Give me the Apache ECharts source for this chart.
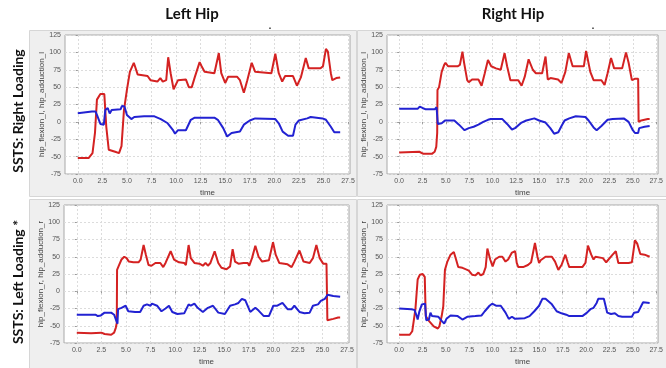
<!DOCTYPE html>
<html><head><meta charset="utf-8">
<script src="https://cdn.jsdelivr.net/npm/echarts@6/dist/echarts.min.js"></script>
<style>html,body{margin:0;padding:0;background:#fff}#c{width:666px;height:368px}</style>
</head><body><div id="c"></div>
<script>
// ---- Data (time [s], angle [deg]) ----
const xTicks = [0, 2.5, 5, 7.5, 10, 12.5, 15, 17.5, 20, 22.5, 25, 27.5];
const columnTitles = ['Left Hip', 'Right Hip'];
const rowTitles = ['SSTS: Right Loading', 'SSTS: Left Loading *'];
const yNames = ['hip_flexion_l, hip_adduction_l', 'hip_flexion_l, hip_adduction_l', 'hip_flexion_r, hip_adduction_r', 'hip_flexion_r, hip_adduction_r'];

const tlFlexion = [[0,-52],[1.1,-52],[1.5,-45],[1.75,-16],[1.95,32],[2.15,33],[2.3,40],[2.7,40],[2.9,-7],[3.15,-40],[3.8,-43],[4.2,-45],[4.45,-35],[4.7,17],[5.0,46],[5.3,72],[5.7,85],[5.9,87],[6.1,68],[7.1,66],[7.4,60],[8.1,58],[8.4,63],[8.65,58],[9.0,60],[9.2,93],[9.45,70],[9.75,47],[9.95,46],[10.2,60],[11.0,61],[11.3,50],[11.6,50],[11.9,64],[12.4,86],[12.6,80],[12.9,72],[13.9,70],[14.35,99],[14.45,101],[14.6,70],[15.0,56],[15.3,65],[16.2,65],[16.5,60],[16.9,42],[17.25,60],[17.7,85],[18.05,72],[19.7,70],[20.1,98],[20.45,70],[20.8,58],[21.1,66],[21.9,66],[22.3,52],[22.7,64],[23.2,92],[23.5,77],[24.7,77],[24.95,80],[25.25,105],[25.45,101],[25.75,70],[25.9,60],[26.3,63],[26.7,64]];
const tlAdduction = [[0,12.5],[1.44,15],[1.8,15],[1.95,10],[2.3,-3],[2.65,-4],[2.8,17],[3.05,20],[3.25,12],[3.45,17],[4.35,18],[4.5,23],[4.75,22],[5.0,10],[5.45,4],[5.75,7],[6.75,8],[6.9,9],[7.8,8],[8.45,4],[9.15,-2],[9.65,-11],[9.9,-17],[10.2,-12],[11.0,-12],[11.5,3],[11.9,6],[13.9,6],[14.25,3],[14.8,-9],[15.2,-21],[15.65,-16],[16.5,-14],[16.9,-4],[17.5,2],[18.05,5],[20.1,4],[20.45,-2],[20.85,-14],[21.4,-20],[21.9,-20],[22.15,-4],[22.5,2],[23.35,5],[23.7,7],[24.9,5],[25.25,3],[25.75,-7],[26.1,-15],[26.7,-15]];

const trFlexion = [[0,-44],[2.15,-43],[2.6,-46],[3.5,-46],[3.8,-43],[3.97,-36],[4.07,-16],[4.1,46],[4.27,50],[4.55,72],[4.82,82],[4.96,85],[5.23,80],[6.25,80],[6.5,82],[6.77,101],[6.95,85],[7.28,60],[7.45,57],[7.8,61],[8.48,61],[8.82,52],[9.16,70],[9.5,89],[9.85,80],[10.36,77],[10.87,75],[11.28,99],[11.55,80],[11.9,60],[12.75,60],[13.1,52],[13.44,65],[13.85,90],[14.3,75],[14.63,70],[15.3,70],[15.66,94],[15.9,61],[16.2,63],[17.0,61],[17.37,56],[17.78,72],[18.15,99],[18.56,80],[19.76,80],[20.0,102],[20.45,72],[20.8,60],[21.64,60],[21.98,53],[22.3,70],[22.67,92],[23.0,77],[23.86,77],[24.27,100],[24.55,85],[24.9,60],[25.2,62],[25.57,62],[25.62,0],[25.9,2],[26.6,4],[26.8,4]];
const trAdduction = [[0,19],[2.0,19],[2.2,22],[2.5,20],[2.85,18],[3.8,18],[4.0,21],[4.1,21],[4.14,-3],[4.55,-2],[4.9,2],[5.9,2],[6.4,-4],[6.77,-9],[7.0,-12],[7.45,-9],[7.97,-7],[8.48,-4],[9.0,0],[9.5,3],[9.8,4],[11.04,4],[11.55,-3],[12.07,-11],[12.4,-9],[13.1,-1],[13.6,2],[14.46,5],[14.97,2],[15.66,-1],[16.17,-9],[16.58,-17],[17.03,-15],[17.37,-6],[17.7,2],[18.2,5],[18.9,8],[19.93,7],[20.27,2],[20.8,-8],[21.13,-12],[21.64,-6],[22.3,3],[22.84,4],[24.03,5],[24.55,0],[25.0,-12],[25.23,-16],[25.57,-16],[25.68,-9],[26.26,-7],[26.8,-6]];

const blFlexion = [[0,-60],[1.45,-61],[2.5,-60],[2.83,-62],[3.5,-63],[3.8,-60],[3.97,-53],[4.07,-46],[4.1,31],[4.28,37],[4.55,46],[4.83,50],[5.07,48],[5.3,43],[5.76,42],[6.28,42],[6.5,46],[6.8,67],[7.03,53],[7.3,38],[7.6,37],[8.0,41],[8.5,41],[8.8,35],[9.03,41],[9.55,58],[9.9,46],[10.4,42],[10.93,41],[11.1,38],[11.38,67],[11.6,48],[11.97,41],[12.48,40],[12.83,37],[13.1,41],[13.34,37],[13.6,41],[14.03,58],[14.4,41],[14.72,34],[15.24,32],[15.6,36],[15.86,61],[16.1,43],[16.45,40],[16.97,41],[17.4,41],[17.55,37],[17.83,48],[18.17,66],[18.5,50],[18.86,43],[19.55,45],[19.97,71],[20.24,53],[20.6,41],[21.45,39],[21.86,35],[22.14,43],[22.66,59],[23.07,43],[23.7,41],[24.03,48],[24.38,67],[24.72,48],[25.07,40],[25.41,40],[25.5,-42],[26.1,-40],[26.6,-38],[26.8,-38]];
const blAdduction = [[0,-34],[1.9,-34],[2.14,-36],[2.45,-35],[2.83,-31],[3.5,-31],[3.8,-34],[4.03,-43],[4.14,-47],[4.2,-26],[4.55,-24],[4.97,-21],[5.24,-29],[5.93,-30],[6.45,-30],[6.8,-21],[7.14,-19],[7.5,-21],[7.65,-18],[8.17,-21],[8.62,-29],[9.03,-25],[9.38,-21],[9.72,-30],[10.24,-33],[10.93,-32],[11.38,-19],[11.6,-21],[11.97,-18],[12.3,-24],[12.83,-30],[13.34,-24],[13.86,-21],[14.4,-31],[15.07,-33],[15.6,-21],[16.1,-19],[16.45,-17],[16.8,-11],[17.14,-13],[17.65,-30],[18.17,-24],[18.5,-28],[19.03,-36],[19.55,-36],[20.0,-21],[20.4,-21],[20.93,-17],[21.45,-26],[21.86,-26],[22.14,-21],[22.66,-30],[23.17,-32],[23.7,-31],[24.03,-21],[24.55,-19],[24.83,-14],[25.24,-11],[25.52,-5],[26.1,-7],[26.8,-8]];

const brFlexion = [[0,-63],[1.13,-63],[1.4,-58],[1.74,-26],[1.98,17],[2.22,24],[2.5,25],[2.74,21],[2.84,-36],[3.18,-43],[3.7,-51],[4.14,-54],[4.3,-51],[4.55,-36],[4.72,-22],[4.9,31],[5.16,43],[5.5,53],[5.85,57],[6.09,46],[6.32,35],[6.77,34],[7.1,32],[7.45,30],[7.8,24],[8.14,23],[8.48,27],[8.72,23],[9.0,25],[9.26,35],[9.44,62],[9.74,46],[10.0,36],[10.26,46],[10.7,50],[11.04,50],[11.38,43],[11.66,46],[12.07,56],[12.41,58],[12.58,41],[12.75,35],[13.26,35],[13.78,38],[14.12,42],[14.53,70],[14.8,50],[14.97,41],[15.14,45],[15.66,50],[16.34,50],[16.68,43],[17.03,31],[17.37,38],[17.78,53],[18.05,41],[18.2,35],[19.6,35],[19.93,41],[20.2,66],[20.55,53],[20.8,46],[21.0,50],[21.8,48],[22.15,42],[22.4,46],[22.84,53],[23.18,58],[23.45,41],[24.55,41],[24.9,42],[25.23,74],[25.47,69],[25.8,54],[26.26,53],[26.8,50]];
const brAdduction = [[0,-25],[1.3,-26],[1.64,-27],[1.88,-36],[1.98,-41],[2.15,-30],[2.43,-19],[2.77,-18],[2.9,-42],[3.18,-41],[3.35,-31],[3.52,-36],[4.2,-37],[4.55,-43],[4.82,-47],[5.06,-40],[5.5,-35],[6.26,-36],[6.77,-41],[7.28,-37],[8.14,-36],[8.82,-35],[9.16,-29],[9.67,-21],[9.95,-18],[10.36,-21],[10.87,-21],[11.38,-31],[11.73,-40],[12.07,-37],[12.4,-40],[13.44,-39],[13.95,-36],[14.46,-29],[14.97,-21],[15.32,-11],[15.66,-11],[16.34,-19],[16.85,-29],[17.37,-32],[17.88,-34],[18.2,-36],[19.6,-36],[20.1,-31],[20.46,-26],[20.8,-24],[21.13,-17],[21.3,-11],[21.9,-11],[22.26,-31],[22.67,-33],[23.08,-32],[23.45,-36],[23.86,-37],[24.9,-37],[25.13,-31],[25.57,-30],[25.8,-24],[26.1,-16],[26.8,-17]];

const flexionSeries = [tlFlexion, trFlexion, blFlexion, brFlexion];
const adductionSeries = [tlAdduction, trAdduction, blAdduction, brAdduction];

// ---- Layout ----
const grids = [
  {left: 65, top: 35, width: 285, height: 139},
  {left: 387, top: 35, width: 285, height: 139},
  {left: 64, top: 205, width: 285, height: 138},
  {left: 387, top: 205, width: 285, height: 138}
];
const RED = '#d42222', BLUE = '#2222d2';
const FONT = '"Liberation Sans", Arial, sans-serif';

const chart = echarts.init(document.getElementById('c'), null, {renderer: 'canvas'});
const xAxes = [], yAxes = [], series = [];
grids.forEach((g, i) => {
  xAxes.push({
    type: 'value', gridIndex: i, min: -1.3, max: 27.7,
    name: 'time', nameLocation: 'middle', nameGap: 15,
    nameTextStyle: {fontSize: 8, color: '#444', fontFamily: FONT},
    axisLine: {show: false},
    axisTick: {show: true, customValues: xTicks, length: 2, lineStyle: {color: '#999'}},
    axisLabel: {customValues: xTicks, fontSize: 7, color: '#555', margin: 4, fontFamily: FONT,
      formatter: v => v.toFixed(1)},
    splitLine: {show: true, lineStyle: {color: '#dcdcdc', type: [2, 2], width: 1}}
  });
  yAxes.push({
    type: 'value', gridIndex: i, min: -75, max: 125, interval: 25,
    name: yNames[i], nameLocation: 'middle', nameGap: 17,
    nameTextStyle: {fontSize: 8, color: '#444', fontFamily: FONT},
    axisLine: {show: false},
    axisTick: {show: true, length: 2, lineStyle: {color: '#999'}},
    axisLabel: {fontSize: 7, color: '#555', margin: 4, fontFamily: FONT},
    splitLine: {show: true, lineStyle: {color: '#dcdcdc', type: [2, 2], width: 1}}
  });
  series.push({type: 'line', xAxisIndex: i, yAxisIndex: i, data: flexionSeries[i], showSymbol: false,
    lineStyle: {color: RED, width: 2}, itemStyle: {color: RED}, animation: false, z: 3});
  series.push({type: 'line', xAxisIndex: i, yAxisIndex: i, data: adductionSeries[i], showSymbol: false,
    lineStyle: {color: BLUE, width: 2}, itemStyle: {color: BLUE}, animation: false, z: 3});
});

const panelBg = (x, y, w, h) => ({type: 'rect', z: -10, shape: {x, y, width: w, height: h},
  style: {fill: '#efefef', stroke: '#d6d6d6', lineWidth: 1}});
const TITLE_FONT = 'bold 15px Lato, "Open Sans", sans-serif';
const ROW_FONT = 'bold 14px Lato, "Open Sans", sans-serif';

chart.setOption({
  animation: false,
  backgroundColor: '#fff',
  grid: grids.map(g => Object.assign({show: true, backgroundColor: '#fff', borderColor: '#a8a8a8', borderWidth: 1}, g)),
  xAxis: xAxes,
  yAxis: yAxes,
  series: series,
  graphic: [
    panelBg(29.5, 30.5, 327, 166),
    panelBg(357.5, 30.5, 310, 166),
    panelBg(29.5, 199.5, 327, 170),
    panelBg(357.5, 199.5, 310, 170),
    {type: 'text', x: 192, y: 14, z: 10, style: {text: columnTitles[0], font: TITLE_FONT, fill: '#111', align: 'center', verticalAlign: 'middle'}},
    {type: 'text', x: 513, y: 14, z: 10, style: {text: columnTitles[1], font: TITLE_FONT, fill: '#111', align: 'center', verticalAlign: 'middle'}},
    {type: 'text', x: 18, y: 111, rotation: Math.PI / 2, z: 10, style: {text: rowTitles[0], font: ROW_FONT, fill: '#111', align: 'center', verticalAlign: 'middle'}},
    {type: 'text', x: 18, y: 282, rotation: Math.PI / 2, z: 10, style: {text: rowTitles[1], font: ROW_FONT, fill: '#111', align: 'center', verticalAlign: 'middle'}},
    {type: 'text', x: 270, y: 31, z: 10, style: {text: '.', font: 'bold 9px sans-serif', fill: '#111', align: 'center', verticalAlign: 'bottom'}},
    {type: 'text', x: 593, y: 31, z: 10, style: {text: '.', font: 'bold 9px sans-serif', fill: '#111', align: 'center', verticalAlign: 'bottom'}}
  ]
});
</script></body></html>
